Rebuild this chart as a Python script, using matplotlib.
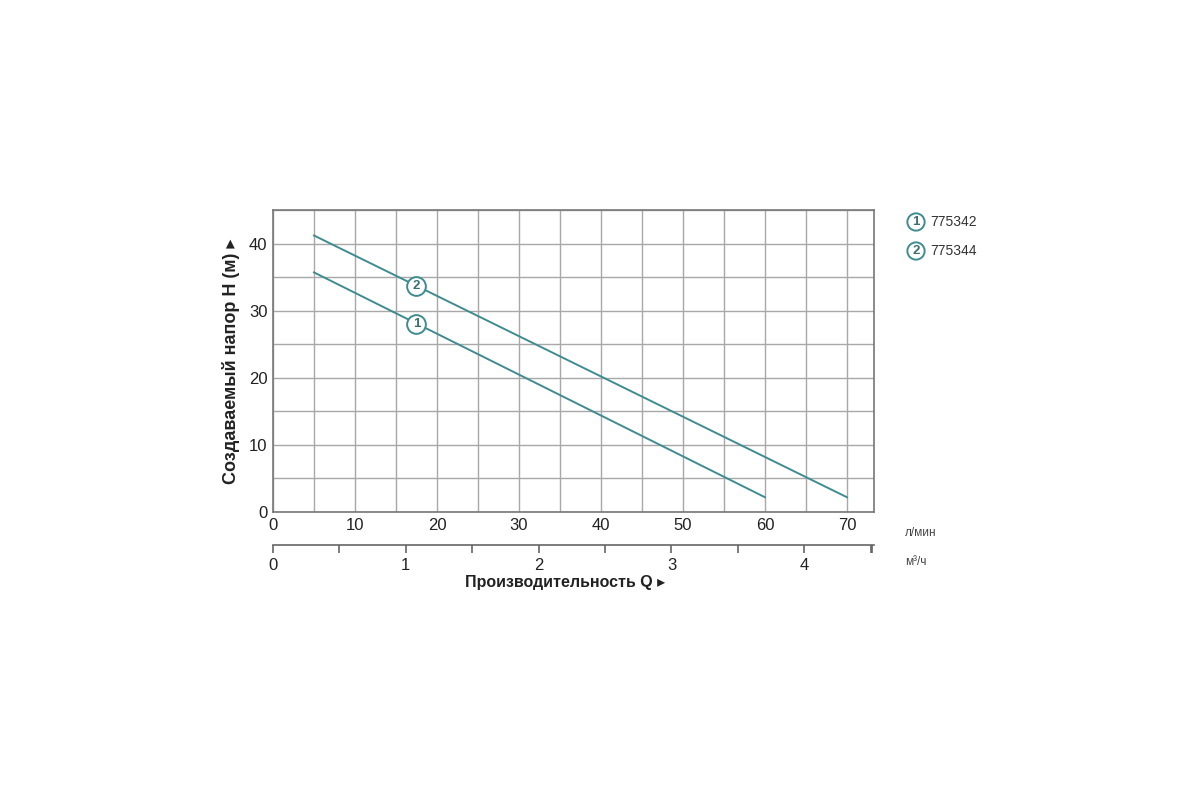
import matplotlib.pyplot as plt
import numpy as np

plt.rcParams['font.family'] = ['Liberation Sans', 'DejaVu Sans']

# кривые насосов: подача (л/мин) и напор (м)
q_1 = [5, 60]
h_1 = [35.7, 2.2]
q_2 = [5, 70]
h_2 = [41.2, 2.2]
models = ['775342', '775344']
# куда ставить номера на кривых
mark_q = [17.5, 17.5]

LPM_PER_M3H = 16.2  # как на исходной шкале

line_c = '#3f8c90'
grid_c = '#a8a8a8'
text_c = '#222222'

fig = plt.figure(figsize=(12, 8), dpi=100)
ax = fig.add_axes([273 / 1200, 1 - 512 / 800, (874 - 273) / 1200, (512 - 210) / 800])

ax.set_xlim(0, 73.3)
ax.set_ylim(0, 45)
ax.set_xticks(np.arange(0, 71, 10))
ax.set_xticks(np.arange(5, 71, 5), minor=True)
ax.set_yticks(np.arange(0, 41, 10))
ax.set_yticks(np.arange(0, 46, 5), minor=True)
ax.grid(True, which='both', color=grid_c, lw=1)
ax.tick_params(which='both', length=0, labelsize=12, colors=text_c, pad=4)
for s in ax.spines.values():
    s.set_color('#777777')
    s.set_linewidth(1.2)

ax.plot(q_1, h_1, color=line_c, lw=1.4, zorder=3)
ax.plot(q_2, h_2, color=line_c, lw=1.4, zorder=3)

# номера на кривых
for i, (qs, hs) in enumerate([(q_1, h_1), (q_2, h_2)]):
    hm = np.interp(mark_q[i], qs, hs)
    ax.plot(mark_q[i], hm, 'o', ms=13.5, mfc='white', mec=line_c, mew=1.4, zorder=4)
    ax.text(mark_q[i], hm, str(i + 1), ha='center', va='center', fontsize=9.5,
            fontweight='bold', color='#3a6f73', zorder=5)

# вторая шкала в м³/ч
sec = ax.secondary_xaxis('bottom', functions=(lambda x: x / LPM_PER_M3H,
                                              lambda x: x * LPM_PER_M3H))
sec.spines['bottom'].set_position(('outward', 24))
sec.spines['bottom'].set_color('#666666')
sec.spines['bottom'].set_linewidth(1.2)
ticks = list(np.arange(0, 4.6, 0.5))
ticks = [t for t in ticks if t * LPM_PER_M3H <= 73.3] + [73.0 / LPM_PER_M3H]
sec.set_xticks(ticks)
sec.set_xticklabels([str(int(t)) if float(t).is_integer() else '' for t in ticks])
sec.tick_params(length=6, width=1.2, color='#666666', labelsize=12,
                labelcolor=text_c, pad=3)

ax.set_ylabel('Создаваемый напор H (м) ▸', fontsize=13, fontweight='bold',
              color=text_c, labelpad=6)
fig.text(565 / 1200, 1 - 583 / 800, 'Производительность Q ▸', ha='center',
         va='center', fontsize=11.5, fontweight='bold', color=text_c)
fig.text(905 / 1200, 1 - 533 / 800, 'л/мин', ha='left', va='center',
         fontsize=8.5, color='#444444')
fig.text(905 / 1200, 1 - 562 / 800, 'м³/ч', ha='left', va='center',
         fontsize=8.5, color='#444444')

# легенда справа
for i, m in enumerate(models):
    y = 1 - (222 + 29 * i) / 800
    fig.text(916 / 1200, y, str(i + 1), ha='center', va='center', fontsize=9.5,
             fontweight='bold', color='#3a6f73',
             bbox=dict(boxstyle='circle,pad=0.2', fc='white', ec=line_c, lw=1.4))
    fig.text(930 / 1200, y, m, ha='left', va='center', fontsize=10,
             color='#333333')

fig.savefig('out.png', dpi=100, facecolor='white')
